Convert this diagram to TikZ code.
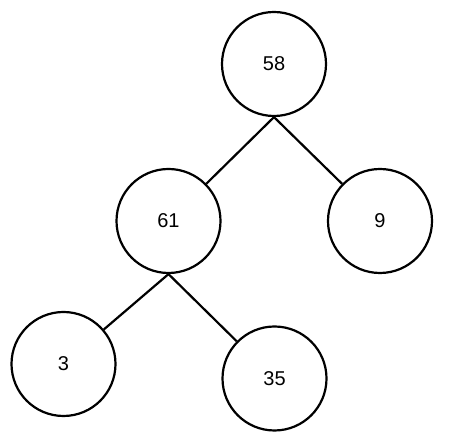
\documentclass[tikz,border=0pt]{standalone}
\usepackage{fontspec}
\setmainfont{Liberation Sans}
\begin{document}
\begin{tikzpicture}[x=1pt,y=1pt,
  treenode/.style={draw=black,circle,line width=2.2pt,minimum size=104pt,inner sep=0pt,font=\fontsize{20}{22}\selectfont},
  edge/.style={draw=black,line width=2.2pt}]
\useasboundingbox (0,0) rectangle (457,446);
\node[treenode] (n58) at (274,382) {58};
\node[treenode] (n61) at (168.5,225) {61};
\node[treenode] (n9) at (380,225) {9};
\node[treenode] (n3) at (63.5,82) {3};
\node[treenode] (n35) at (274.5,67.5) {35};
\draw[edge] (n58.south) -- (n61);
\draw[edge] (n58.south) -- (n9);
\draw[edge] (n61.south) -- (n3);
\draw[edge] (n61.south) -- (n35);
\end{tikzpicture}
\end{document}
